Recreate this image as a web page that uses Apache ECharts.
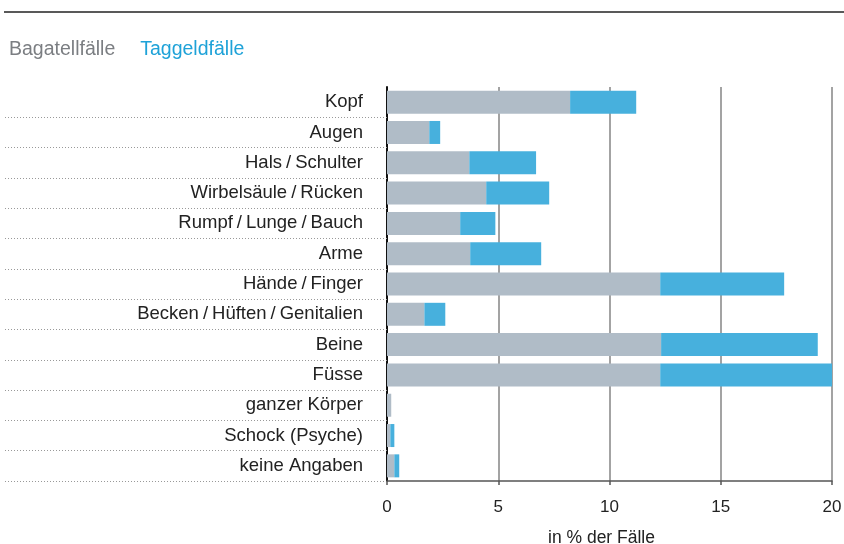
<!DOCTYPE html>
<html>
<head>
<meta charset="utf-8">
<script src="https://cdn.jsdelivr.net/npm/echarts@6/dist/echarts.min.js"></script>
<style>
html, body { margin: 0; padding: 0; background: #fff; }
#container { width: 844px; height: 544px; }
</style>
</head>
<body>
<div id="container"></div>
<script>
var categories = ["Kopf", "Augen", "Hals/Schulter", "Wirbelsäule/Rücken", "Rumpf/Lunge/Bauch", "Arme",
    "Hände/Finger", "Becken/Hüften/Genitalien", "Beine", "Füsse", "ganzer Körper", "Schock (Psyche)", "keine Angaben"];
var bagatell = [8.23, 1.9, 3.7, 4.46, 3.29, 3.74, 12.28, 1.68, 12.32, 12.28, 0.19, 0.15, 0.33];
var taggeld = [2.97, 0.49, 3.0, 2.83, 1.58, 3.19, 5.57, 0.94, 7.04, 7.72, 0, 0.18, 0.22];
var xTicks = [0, 5, 10, 15, 20];

var dom = document.getElementById("container");
var myChart = echarts.init(dom, null, { renderer: "canvas" });
var font = "'Liberation Sans', Arial, sans-serif";

var option = {
    animation: false,
    textStyle: { fontFamily: font },
    graphic: [
        {
            type: "line",
            shape: { x1: 4, y1: 12, x2: 844, y2: 12 },
            style: { stroke: "#222", lineWidth: 1.5 }
        }
    ],
    legend: {
        left: 4,
        top: 40,
        padding: 0,
        itemWidth: 0,
        itemHeight: 0,
        itemGap: 20,
        selectedMode: false,
        textStyle: { fontSize: 19.5, fontFamily: font },
        data: [
            { name: "Bagatellfälle", textStyle: { color: "#7b7e82" } },
            { name: "Taggeldfälle", textStyle: { color: "#1ea2d8" } }
        ]
    },
    grid: {
        left: 387,
        right: 12,
        top: 87,
        bottom: 63,
        containLabel: false,
        outerBoundsMode: "none"
    },
    xAxis: {
        type: "value",
        min: xTicks[0],
        max: xTicks[xTicks.length - 1],
        interval: 5,
        name: "in % der Fälle",
        nameLocation: "middle",
        nameGap: 48,
        nameTextStyle: { fontSize: 17.5, color: "#222", fontFamily: font, padding: [0, 16, 0, 0] },
        axisLine: { show: true, lineStyle: { color: "#555", width: 1.5 } },
        axisTick: { show: true, length: 4, lineStyle: { color: "#555", width: 1.5 } },
        axisLabel: { fontSize: 17, color: "#222", margin: 18, fontFamily: font },
        splitLine: { show: true, lineStyle: { color: "#858585", width: 1.5 } }
    },
    yAxis: {
        type: "category",
        inverse: true,
        data: categories,
        axisLine: { show: true, lineStyle: { color: "#111", width: 2 } },
        axisTick: {
            show: true,
            length: 382,
            interval: function (i) { return i > 0; },
            lineStyle: { color: "#999", type: [1, 2], width: 1 }
        },
        axisLabel: {
            fontSize: 18.5,
            color: "#222",
            margin: 24,
            fontFamily: font,
            formatter: function (v) {
                return v.split("/").join("{s|/}");
            },
            rich: {
                s: { fontSize: 18.5, color: "#222", fontFamily: font, padding: [0, 4] }
            }
        },
        splitLine: { show: false }
    },
    series: [
        {
            name: "Bagatellfälle",
            type: "bar",
            stack: "total",
            barWidth: 23,
            itemStyle: { color: "#b0bcc7" },
            data: bagatell
        },
        {
            name: "Taggeldfälle",
            type: "bar",
            stack: "total",
            barWidth: 23,
            itemStyle: { color: "#47b0dd" },
            data: taggeld
        }
    ]
};

if (option && typeof option === "object") {
    myChart.setOption(option);
}

window.addEventListener("resize", myChart.resize);
</script>
</body>
</html>
